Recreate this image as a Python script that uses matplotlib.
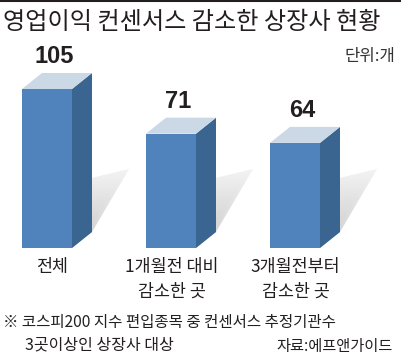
import numpy as np
import matplotlib.pyplot as plt
from matplotlib.patches import Polygon

plt.rcParams['font.family'] = ['Noto Sans CJK KR', 'DejaVu Sans']

categories = ['전체', '1개월전 대비\n감소한 곳', '3개월전부터\n감소한 곳']
values = [105, 71, 64]
title = '영업이익 컨센서스 감소한 상장사 현황'
unit = '단위:개'
note1 = '※ 코스피200 지수 편입종목 중 컨센서스 추정기관수'
note2 = '3곳이상인 상장사 대상'
source = '자료:에프앤가이드'

W, H = 401, 362
fig = plt.figure(figsize=(W / 100, H / 100), dpi=100)
fig.patch.set_facecolor('white')

# bar axes: pixel layout
ax_top, ax_bot = 40, 248
ax = fig.add_axes([0, (H - ax_bot) / H, 1, (ax_bot - ax_top) / H])
px_per_x = 124.0
x0 = -47 / px_per_x
ax.set_xlim(x0, x0 + W / px_per_x)
base = -16
px_per_y = 1.314
ax.set_ylim(base, base + (ax_bot - ax_top) / px_per_y)
ax.axis('off')

front = '#5083bb'
side = '#3a6590'
top = '#cbd8e5'
bw = 50 / px_per_x
dx = 20 / px_per_x
dy = 16 / px_per_y

xs = np.arange(len(values))
# soft floor shadow: light grey near the bar fading to white
g = np.linspace(0, 1, 100)
gx, gy = np.meshgrid(g, g[::-1])
shade = 1 - 0.22 * np.clip(1 - np.maximum(gx, gy) * 0.9, 0, 1)
shadow_img = np.dstack([shade, shade, shade])

for x, v in zip(xs, values):
    l = x - bw / 2
    r = x + bw / 2
    sh = Polygon([[r, base], [r + dx, base + dy], [r + dx + 0.3, base + dy + 48],
                  [r + 0.1, base + 52]], closed=True, facecolor='none', edgecolor='none')
    ax.add_patch(sh)
    im = ax.imshow(shadow_img, extent=[r, r + dx + 0.35, base, base + 68],
                   aspect='auto', zorder=1)
    im.set_clip_path(sh)
    ax.bar(x, v - base, bottom=base, width=bw, color=front, zorder=3)
    ax.add_patch(Polygon([[r, base], [r + dx, base + dy], [r + dx, v + dy], [r, v]],
                         closed=True, facecolor=side, edgecolor='none', zorder=3))
    ax.add_patch(Polygon([[l, v], [l + dx, v + dy], [r + dx, v + dy], [r, v]],
                         closed=True, facecolor=top, edgecolor='none', zorder=3))
    ax.text(x + dx / 2 - 0.02, v + dy + 5 / px_per_y, str(v), ha='center', va='bottom',
            fontsize=17, fontweight='bold', family=['Liberation Sans', 'DejaVu Sans'],
            color='#231f20', zorder=4)

for i, (x, c) in enumerate(zip(xs, categories)):
    off = 0.04 if i == 0 else 0.005
    ax.text(x + off, base - 10 / px_per_y, c, ha='center', va='top', fontsize=12.5,
            color='#231f20', linespacing=1.45)

# top border
fig.add_artist(plt.Line2D([0, 1], [1 - 1 / H, 1 - 1 / H], color='#231f20', lw=1.5))
fig.text(3 / W, 1 - 22 / H, title, ha='left', va='center', fontsize=17.4,
         fontweight='medium', color='#231f20')
fig.text(395 / W, 1 - 57 / H, unit, ha='right', va='center', fontsize=12, color='#333333')
fig.text(3 / W, 1 - 322 / H, note1, ha='left', va='center', fontsize=11.2, color='#231f20')
fig.text(25 / W, 1 - 345 / H, note2, ha='left', va='center', fontsize=11.5, color='#231f20')
fig.text(393 / W, 1 - 347 / H, source, ha='right', va='center', fontsize=11, color='#231f20')

fig.savefig('out.png', dpi=100)
